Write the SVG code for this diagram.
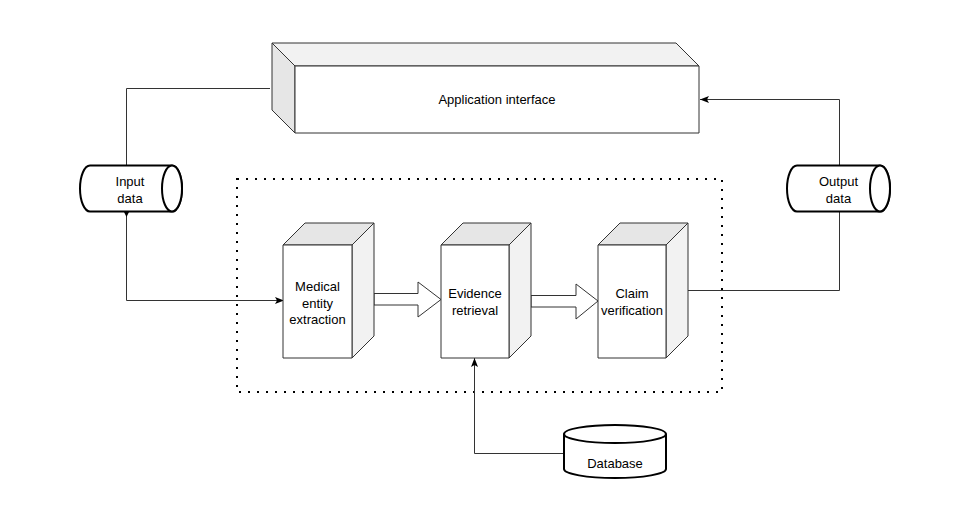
<svg xmlns="http://www.w3.org/2000/svg" width="977" height="532" viewBox="0 0 977 532">
  <defs>
    <style>
      .lbl { font-family: "Liberation Sans", Arial, Helvetica, sans-serif; font-size: 13px; fill: #000; text-anchor: middle; }
      .face { fill: #fff; stroke: #333; stroke-width: 1; stroke-linejoin: round; }
      .top { fill: #e6e6e6; stroke: #333; stroke-width: 1; stroke-linejoin: round; }
      .side { fill: #f2f2f2; stroke: #333; stroke-width: 1; stroke-linejoin: round; }
      .cyl { fill: #fff; stroke: #000; stroke-width: 2; }
      .edge { fill: none; stroke: #333; stroke-width: 1; }
      .block { fill: #fff; stroke: #333; stroke-width: 1; stroke-linejoin: miter; }
      .frame { fill: none; stroke: #000; stroke-width: 2; stroke-dasharray: 2 7; }
    </style>
    <marker id="classic" markerUnits="userSpaceOnUse" markerWidth="10" markerHeight="8" refX="9" refY="3.5" orient="auto">
      <path d="M0,0 L9,3.5 L0,7 L2,3.5 Z" fill="#000"/>
    </marker>
    <marker id="tri" markerUnits="userSpaceOnUse" markerWidth="7" markerHeight="7" refX="0" refY="3" orient="auto">
      <path d="M0,0 L6,3 L0,6 Z" fill="#000"/>
    </marker>
  </defs>

  <!-- dotted boundary around the processing pipeline -->
  <rect class="frame" x="237" y="179" width="485" height="213"/>

  <!-- connectors -->
  <g id="connectors">
    <path class="edge" d="M126.5,165 V88.5 H270"/>
    <path class="edge" d="M126.5,211 V300.5 H284" marker-start="url(#tri)" marker-end="url(#classic)"/>
    <path class="edge" d="M688,290.5 H839.5 V212"/>
    <path class="edge" d="M839.5,165 V99.5 H700" marker-end="url(#classic)"/>
    <path class="edge" d="M563,453.5 H474.5 V358" marker-end="url(#classic)"/>
    <!-- block arrows between the stages -->
    <path class="block" d="M374,293.5 H418 V282 L441,299.5 L418,317 V305 H374 Z"/>
    <path class="block" d="M531,295.5 H576 V284 L598,301 L576,319 V307 H531 Z"/>
  </g>

  <!-- application interface (long cube) -->
  <g id="app-interface">
    <polygon class="side" points="272,43 676,43 699,66 295,66"/>
    <polygon class="top" points="272,43 295,66 295,133 272,110"/>
    <rect class="face" x="295" y="66" width="404" height="67"/>
    <text class="lbl" x="497" y="104">Application interface</text>
  </g>

  <!-- input data -->
  <g id="input-data">
    <path class="cyl" d="M90,165.5 H172 A10,23 0 0 1 172,211.5 H90 A10,23 0 0 1 90,165.5 Z"/>
    <ellipse class="cyl" cx="172" cy="188.5" rx="10" ry="23"/>
    <text class="lbl" x="130" y="186">Input</text>
    <text class="lbl" x="130" y="203">data</text>
  </g>

  <!-- output data -->
  <g id="output-data">
    <path class="cyl" d="M797,165.5 H880 A10,23 0 0 1 880,211.5 H797 A10,23 0 0 1 797,165.5 Z"/>
    <ellipse class="cyl" cx="880" cy="188.5" rx="10" ry="23"/>
    <text class="lbl" x="838.5" y="186">Output</text>
    <text class="lbl" x="838.5" y="203">data</text>
  </g>

  <!-- medical entity extraction -->
  <g id="entity-extraction">
    <polygon class="top" points="283,245 305,223 374,223 352,245"/>
    <polygon class="side" points="352,245 374,223 374,336 352,358"/>
    <rect class="face" x="283" y="245" width="69" height="113"/>
    <text class="lbl" x="317.5" y="291">Medical</text>
    <text class="lbl" x="317.5" y="307.5">entity</text>
    <text class="lbl" x="317.5" y="324">extraction</text>
  </g>

  <!-- evidence retrieval -->
  <g id="evidence-retrieval">
    <polygon class="top" points="441,245 463,223 531,223 509,245"/>
    <polygon class="side" points="509,245 531,223 531,336 509,358"/>
    <rect class="face" x="441" y="245" width="68" height="113"/>
    <text class="lbl" x="475" y="298">Evidence</text>
    <text class="lbl" x="475" y="314.5">retrieval</text>
  </g>

  <!-- claim verification -->
  <g id="claim-verification">
    <polygon class="top" points="598,245 620,223 688,223 666,245"/>
    <polygon class="side" points="666,245 688,223 688,336 666,358"/>
    <rect class="face" x="598" y="245" width="68" height="113"/>
    <text class="lbl" x="632" y="298">Claim</text>
    <text class="lbl" x="632" y="314.5">verification</text>
  </g>

  <!-- database -->
  <g id="database">
    <path class="cyl" d="M564,434 V469 A51,9 0 0 0 666,469 V434"/>
    <ellipse class="cyl" cx="615" cy="434" rx="51" ry="9"/>
    <text class="lbl" x="615" y="467.5">Database</text>
  </g>
</svg>
